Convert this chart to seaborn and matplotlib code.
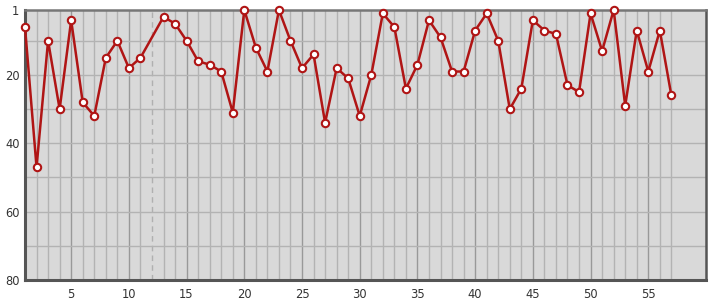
import numpy as np
import pandas as pd
import matplotlib
matplotlib.use("Agg")
import matplotlib.pyplot as plt
import seaborn as sns

x_vals = list(range(1, 58))
ranks = [6, 47, 10, 30, 4, 28, 32, 15, 10, 18, 15, np.nan, 3, 5, 10, 16, 17, 19, 31,
         1, 12, 19, 1, 10, 18, 14, 34, 18, 21, 32, 20, 2, 6, 24, 17, 4, 9, 19, 19,
         7, 2, 10, 30, 24, 4, 7, 8, 23, 25, 2, 13, 1, 29, 7, 19, 7, 26]
y_ticks = [1, 20, 40, 60, 80]
x_ticks = [5, 10, 15, 20, 25, 30, 35, 40, 45, 50, 55]
gap_x = 12

df = pd.DataFrame({"x": x_vals, "rank": ranks})

sns.set_style("white")
plt.rcParams['font.family'] = ['DejaVu Sans']

fig = plt.figure(figsize=(7.15, 3.0), dpi=100)
ax = fig.add_axes([25/715, 20/300, 681/715, 270/300])
ax.set_facecolor("#d9d9d9")

# grid
for xv in x_vals:
    if xv == gap_x:
        continue
    ax.axvline(xv, color="#999999" if xv % 5 == 0 else "#b3b3b3", lw=1.0, zorder=0)
ax.axvline(gap_x, color="#b0b0b0", lw=1.0, ls=(0, (4, 3)), zorder=0)
for yv in range(10, 80, 10):
    ax.axhline(yv, color="#b3b3b3", lw=1.0, zorder=0)

sns.lineplot(data=df, x="x", y="rank", ax=ax, color="#b01515", lw=1.8,
             marker="o", markersize=5.3, markerfacecolor="white",
             markeredgecolor="#b01515", markeredgewidth=1.5, zorder=3, clip_on=False)

ax.set_xlim(1, 60)
ax.set_ylim(80, 1)
ax.set_xticks(x_ticks)
ax.set_yticks(y_ticks)
ax.set_xlabel("")
ax.set_ylabel("")
ax.tick_params(axis="both", length=0, labelsize=8.3, colors="#333333", pad=6)
ax.tick_params(axis="y", pad=4)

for s in ["left", "bottom"]:
    ax.spines[s].set_color("#555555")
    ax.spines[s].set_linewidth(2.2)
for s in ["top", "right"]:
    ax.spines[s].set_color("#777777")
    ax.spines[s].set_linewidth(1.8)
ax.spines["right"].set_color("#555555")

fig.savefig("out.png", dpi=100)
